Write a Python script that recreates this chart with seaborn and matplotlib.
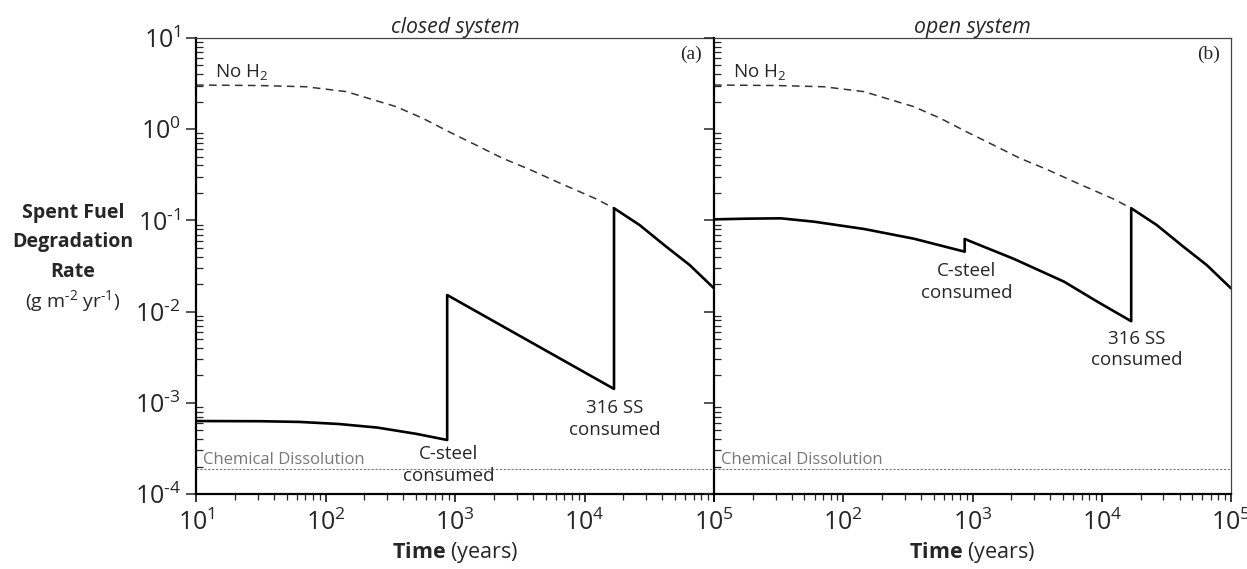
import numpy as np
import pandas as pd
import matplotlib
matplotlib.use("Agg")
import matplotlib.pyplot as plt
import seaborn as sns
from matplotlib import font_manager
from matplotlib.ft2font import FT2Font
from matplotlib.ticker import LogLocator, NullFormatter, FuncFormatter

# ---------------- data ----------------
# "No H2" dashed curve (same in both panels)
nh2_t = [10, 31.6, 70.8, 145, 245, 350, 562, 904, 1450, 2330, 3750, 6310, 12300, 16900]
nh2_rate = [3.05, 3.01, 2.92, 2.58, 2.06, 1.77, 1.32, 0.933, 0.671, 0.48, 0.363, 0.26, 0.172, 0.136]

# closed system solid curve (up to 316 SS consumed)
closed_t = [10, 31.6, 63, 126, 251, 501, 870, 870, 16900, 16900]
closed_rate = [6.31e-4, 6.28e-4, 6.17e-4, 5.86e-4, 5.35e-4, 4.57e-4, 3.91e-4, 1.52e-2, 1.42e-3, 0.136]

# open system solid curve (up to 316 SS consumed)
open_t = [10, 18.1, 32.8, 59.4, 145, 352, 870, 870, 2094, 5105, 9247, 16900, 16900]
open_rate = [0.1027, 0.1045, 0.1054, 0.0968, 0.0805, 0.063, 0.0454, 0.0625, 0.0378, 0.0213,
             0.01285, 0.00785, 0.136]

# tail after 316 SS consumed (same in both panels)
tail_t = [16900, 26600, 42800, 64900, 100000]
tail_rate = [0.136, 0.0891, 0.0515, 0.0324, 0.018]

chem_rate = 1.88e-4
x_range = [10, 1e5]
y_range = [1e-4, 10]
panel_titles = ["closed system", "open system"]
panel_tags = ["(a)", "(b)"]

# ---------------- style ----------------
sns.set_style("ticks")
plt.rcParams["font.family"] = ["Open Sans", "DejaVu Sans"]
plt.rcParams["mathtext.fontset"] = "custom"
plt.rcParams["mathtext.rm"] = "Open Sans"
plt.rcParams["mathtext.it"] = "Open Sans:italic"
plt.rcParams["mathtext.bf"] = "Open Sans:bold"
plt.rcParams["mathtext.sf"] = "Open Sans"

# short hyphen for negative exponents if the font has one
hyph = "-"
try:
    path = font_manager.findfont(font_manager.FontProperties(family="Open Sans"))
    cmap = FT2Font(path).get_charmap()
    for cp in (0x2010, 0x2011, 0x00AD):
        if cp in cmap:
            hyph = chr(cp)
            break
except Exception:
    pass

def pow_fmt(v, pos):
    if v <= 0:
        return ""
    e = int(round(np.log10(v)))
    s = (hyph + str(-e)) if e < 0 else str(e)
    return r"$\mathdefault{10^{%s}}$" % s

def pow_fmt_no10(v, pos):
    if abs(v - 10) < 1e-9:
        return ""
    return pow_fmt(v, pos)

fig = plt.figure(figsize=(12.47, 5.69), dpi=100)
W, H = 1247, 569
def box(x0, x1, y0, y1):
    return [x0 / W, 1 - y1 / H, (x1 - x0) / W, (y1 - y0) / H]

ax1 = fig.add_axes(box(196, 714, 38, 494))
ax2 = fig.add_axes(box(714, 1231, 38, 494))

solid_sets = [(closed_t, closed_rate), (open_t, open_rate)]

for i, ax in enumerate([ax1, ax2]):
    ax.set_xscale("log")
    ax.set_yscale("log")
    ax.set_xlim(*x_range)
    ax.set_ylim(*y_range)

    df_nh2 = pd.DataFrame({"t": nh2_t, "r": nh2_rate})
    sns.lineplot(data=df_nh2, x="t", y="r", ax=ax, estimator=None, sort=False,
                 color="#333333", lw=1.1, linestyle=(0, (5, 3.5)))
    st, sr = solid_sets[i]
    df_s = pd.DataFrame({"t": st + tail_t[1:], "r": sr + tail_rate[1:]})
    sns.lineplot(data=df_s, x="t", y="r", ax=ax, estimator=None, sort=False,
                 color="black", lw=1.9)
    df_c = pd.DataFrame({"t": x_range, "r": [chem_rate, chem_rate]})
    sns.lineplot(data=df_c, x="t", y="r", ax=ax, estimator=None, sort=False,
                 color="#777777", lw=0.8, linestyle=(0, (2, 1.5)))

    ax.set_xlabel("")
    ax.set_ylabel("")

    for s in ["top", "right"]:
        ax.spines[s].set_linewidth(0.9)
        ax.spines[s].set_color("#444444")
    for s in ["left", "bottom"]:
        ax.spines[s].set_linewidth(1.6)
        ax.spines[s].set_color("black")
    if i == 0:
        ax.spines["right"].set_visible(False)

    ax.xaxis.set_major_locator(LogLocator(base=10, numticks=10))
    ax.xaxis.set_minor_locator(LogLocator(base=10, subs=np.arange(2, 10), numticks=20))
    ax.yaxis.set_major_locator(LogLocator(base=10, numticks=10))
    ax.yaxis.set_minor_locator(LogLocator(base=10, subs=np.arange(2, 10), numticks=20))
    ax.xaxis.set_minor_formatter(NullFormatter())
    ax.yaxis.set_minor_formatter(NullFormatter())

    ax.tick_params(axis="x", which="major", direction="out", length=6, width=1.1,
                   labelsize=18, pad=5, color="black")
    ax.tick_params(axis="x", which="minor", direction="out", length=4, width=0.9)
    ax.tick_params(axis="y", which="major", direction="out", length=7, width=1.1,
                   labelsize=18, pad=4)
    ax.tick_params(axis="y", which="minor", direction="in", length=5, width=0.9)

    if i == 0:
        ax.xaxis.set_major_formatter(FuncFormatter(pow_fmt))
        ax.yaxis.set_major_formatter(FuncFormatter(pow_fmt))
    else:
        ax.yaxis.set_major_formatter(NullFormatter())
        ax.xaxis.set_major_formatter(FuncFormatter(pow_fmt_no10))

    ax.set_title(panel_titles[i], fontstyle="italic", fontsize=15.3, pad=3)
    ax.text(0.956, 0.965, panel_tags[i], transform=ax.transAxes, ha="center", va="center",
            fontsize=14, family=["Liberation Serif", "DejaVu Serif"])
    ax.text(0.037, 0.925, "No H$_2$", transform=ax.transAxes, ha="left", va="center",
            fontsize=13.5)
    ax.text(0.014, 0.075, "Chemical Dissolution", transform=ax.transAxes, ha="left",
            va="center", fontsize=12, color="#777777")
    ax.text(0.5, -0.129, r"$\bf{Time}$ (years)", transform=ax.transAxes, ha="center",
            va="center", fontsize=15.5)

# annotations
ax1.text(0.488, 0.0636, "C-steel\nconsumed", transform=ax1.transAxes, ha="center",
         va="center", fontsize=13.5, linespacing=1.25)
ax1.text(0.809, 0.164, "316 SS\nconsumed", transform=ax1.transAxes, ha="center",
         va="center", fontsize=13.5, linespacing=1.25)
ax2.text(0.489, 0.465, "C-steel\nconsumed", transform=ax2.transAxes, ha="center",
         va="center", fontsize=13.5, linespacing=1.25)
ax2.text(0.818, 0.317, "316 SS\nconsumed", transform=ax2.transAxes, ha="center",
         va="center", fontsize=13.5, linespacing=1.25)

# y-axis label, one line at a time
for txt, yb in [("Spent Fuel", 218), ("Degradation", 247), ("Rate", 277)]:
    fig.text(73 / W, 1 - yb / H, txt, ha="center", va="baseline",
             fontsize=14, fontweight="bold")
fig.text(73 / W, 1 - 307 / H, r"(g m$^{\mathsf{%s2}}$ yr$^{\mathsf{%s1}}$)" % (hyph, hyph),
         ha="center", va="baseline", fontsize=14)

fig.savefig("out.png", dpi=100)
